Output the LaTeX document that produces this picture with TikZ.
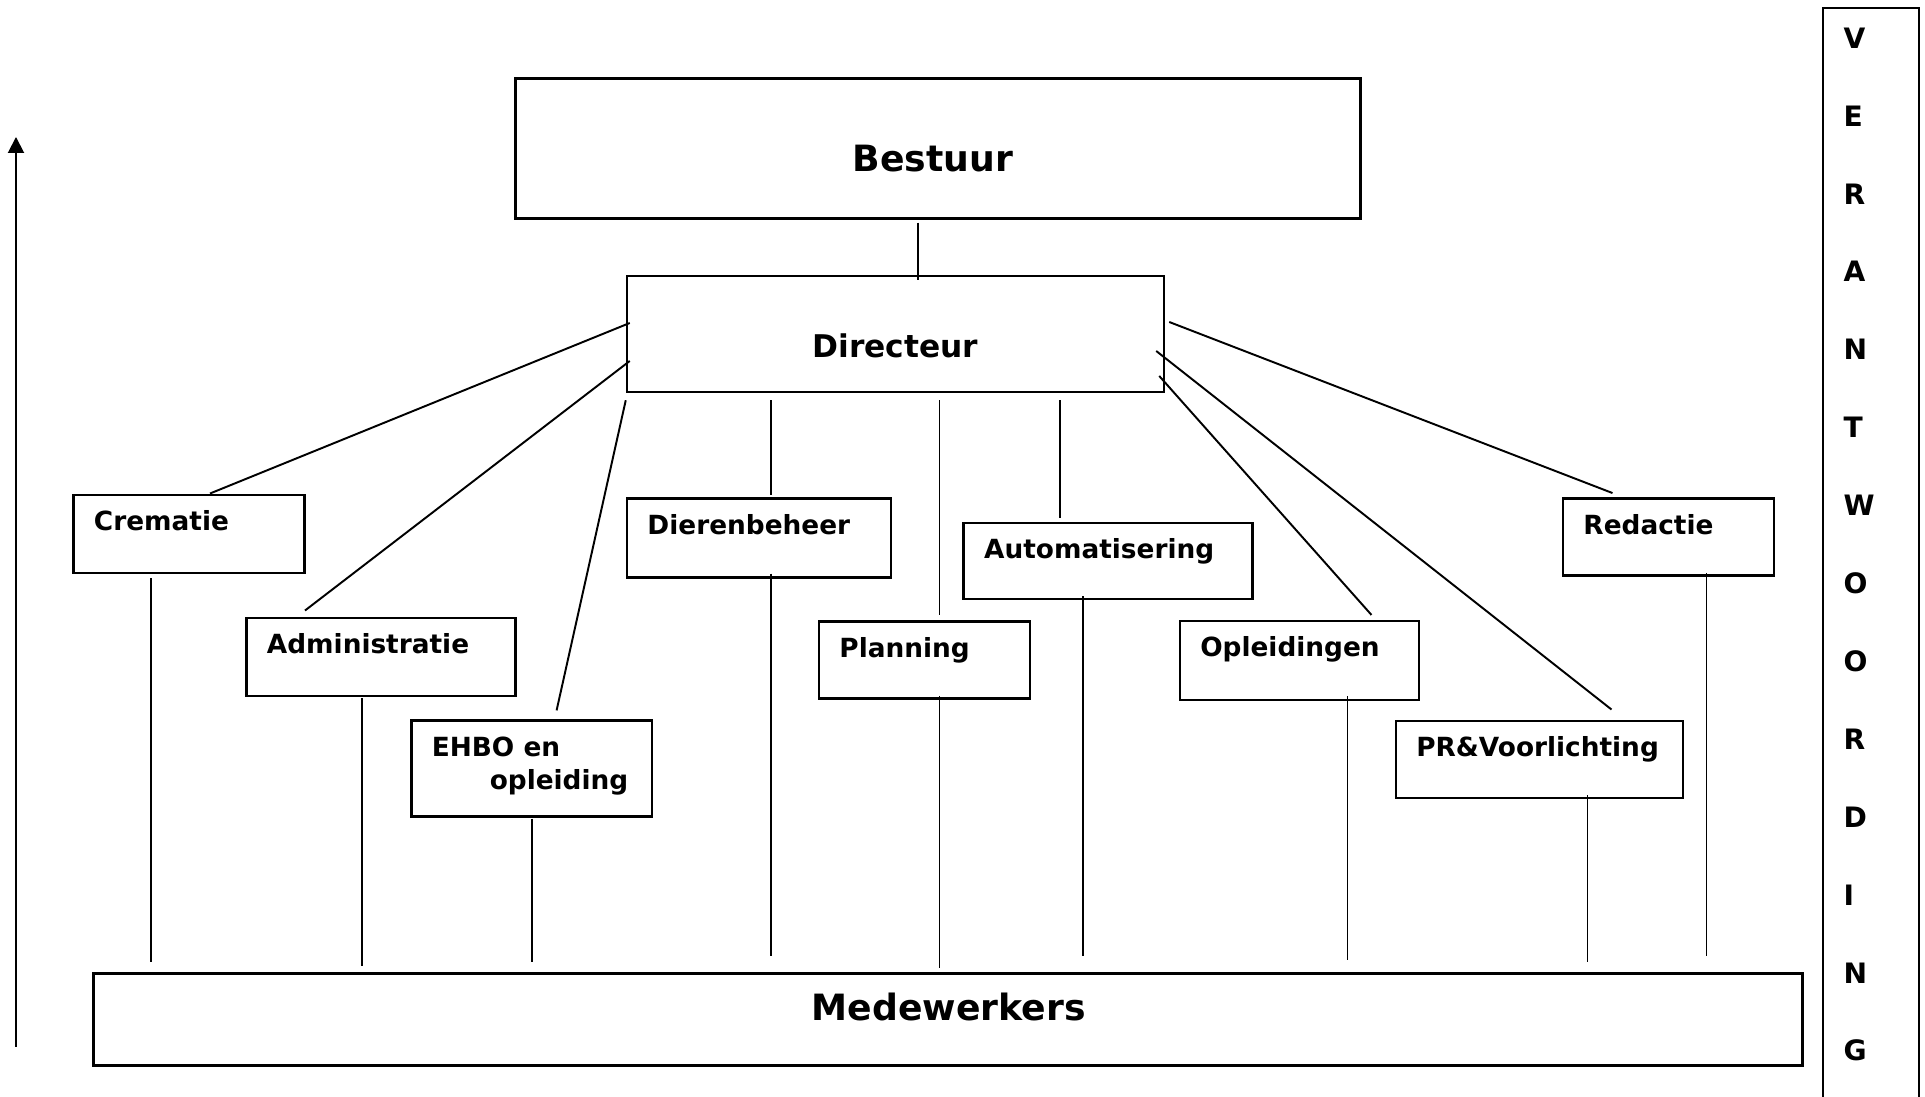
\documentclass[tikz,border=0pt]{standalone}
\usepackage{fontspec}
\setmainfont{DejaVu Sans}
\usepackage{tikz}
\usetikzlibrary{calc,arrows.meta}

\begin{document}
\begin{tikzpicture}[x=0.1mm, y=-0.1mm,
  box/.style={draw, line width=0.7pt, inner sep=0pt},
  boxtext/.style={font=\fontsize{7.5}{9.4}\selectfont\bfseries,
                  anchor=base west, align=left, inner sep=0pt},
  link/.style={line width=0.55pt}]

\useasboundingbox (0,0) rectangle (1925,1097);

% ── Bestuur / Directeur / Medewerkers ─────────────────────────────────
\node[box, minimum width=84.5mm, minimum height=14mm]  (best) at (938,148.5)  {};
\node[font=\fontsize{10.3}{12}\selectfont\bfseries] at ($(best)+(-5,10)$) {Bestuur};

\node[box, minimum width=53.7mm, minimum height=11.6mm] (dir) at (895.5,334) {};
\node[font=\fontsize{8.9}{11}\selectfont\bfseries] at ($(dir)+(0,12)$) {Directeur};

\node[box, minimum width=170.9mm, minimum height=9.2mm] (mw) at (947.8,1019.6) {};
\node[font=\fontsize{10.3}{12}\selectfont\bfseries] at ($(mw)+(1,-13)$) {Medewerkers};

% ── Afdelingen (ty = basislijn van de laatste tekstregel) ─────────────
\foreach \nm/\cx/\cy/\w/\h/\ty/\txt in {
   crem/189/534/231/78.5/37/Crematie,
   adm/381/657/269/78.5/37/Administratie,
   ehbo/531.6/768.5/240.6/95.7/70/{EHBO en\\\hspace*{5.8mm}opleiding},
   dier/759/538/264/78.6/37/Dierenbeheer,
   plan/924.5/660/211/77.4/37/Planning,
   auto/1108/561/288.6/76/37/Automatisering,
   opl/1299.5/660.5/239.4/78.6/37/Opleidingen,
   pr/1539.5/759.4/287.3/77.3/37/PR\&Voorlichting,
   red/1668.5/537/211/77.4/37/Redactie}
{
  \node[box, minimum width=\w*0.1mm, minimum height=\h*0.1mm] (\nm) at (\cx,\cy) {};
  \node[boxtext] at ($(\nm.north west)+(21,\ty)$) {\txt};
}

% ── Lijnen Bestuur -> Directeur -> afdelingen ─────────────────────────
\draw[link] ($(best.south)+(-20,3)$) -- ($(best.south |- dir.north)+(-20,5)$);

\draw[link] ($(dir.west)+(4,-11)$)      -- ($(crem.north)+(21,0)$);
\draw[link] ($(dir.west)+(4,27)$)       -- ($(adm.north)+(-76,-6)$);
\draw[link] ($(dir.south west)+(0,7)$)  -- ($(ehbo.north)+(25,-9)$);
\draw[link] ($(dier.north |- dir.south)+(12,7)$) -- ($(dier.north)+(12,-2)$);
\draw[link] ($(plan.north |- dir.south)+(15,7)$) -- ($(plan.north)+(15,-5)$);
\draw[link] ($(auto.north |- dir.south)+(-48,7)$) -- ($(auto.north)+(-48,-4)$);
\draw[link] ($(dir.east)+(-6,42)$)      -- ($(opl.north)+(72,-5)$);
\draw[link] ($(dir.east)+(-9,17)$)      -- ($(pr.north)+(72,-10)$);
\draw[link] ($(dir.east)+(4,-12)$)      -- ($(red.north)+(-56,-4)$);

% ── Lijnen afdelingen -> Medewerkers ──────────────────────────────────
\foreach \nm/\dx/\ya/\yb in {
   crem/-38/4/-10, adm/-19/1/-6, ehbo/0/1/-10, dier/12/-5/-16,
   plan/15/-4/-4, auto/-25/-4/-16, opl/48/-5/-12, pr/48/-4/-10,
   red/38/-4/-16}
  \draw[link] ($(\nm.south)+(\dx,\ya)$) -- ($(\nm.south |- mw.north)+(\dx,\yb)$);

% ── Verantwoording ────────────────────────────────────────────────────
\node[box, anchor=north west, minimum width=9.6mm, minimum height=112mm]
  (resp) at (1822,7) {};
\foreach \ch [count=\i from 0] in {V,E,R,A,N,T,W,O,O,R,D,I,N,G}
  \node[font=\fontsize{8}{10}\selectfont\bfseries, anchor=west, inner sep=0pt]
    (l\i) at (1843, {38+\i*77.9}) {\ch};

% ── Pijl links ────────────────────────────────────────────────────────
\coordinate (arrlow) at (16,1047);
\coordinate (arrtop) at (16,137);
\draw[link, -{Triangle[length=1.6mm, width=1.6mm]}] (arrlow) -- (arrtop);

\end{tikzpicture}
\end{document}
